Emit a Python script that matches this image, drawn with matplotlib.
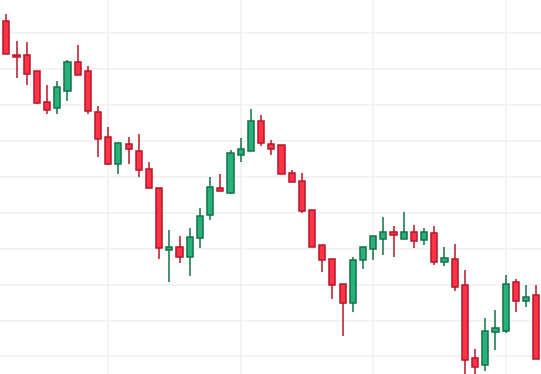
import matplotlib
matplotlib.use("Agg")
import matplotlib.pyplot as plt
import numpy as np

# daily OHLC
opens = [151.67, 146.94, 146.94, 144.71, 140.39, 139.55, 141.92, 145.96, 144.71, 139.00,
         135.52, 131.76, 134.54, 133.57, 131.06, 128.41, 119.78, 120.20, 118.80, 121.45,
         124.65, 128.41, 127.72, 133.01, 133.57, 137.74, 134.54, 134.40, 130.50, 129.39,
         125.35, 120.47, 118.52, 115.04, 112.40, 118.39, 119.92, 121.31, 122.28, 121.31,
         122.28, 121.17, 122.15, 118.11, 118.52, 114.90, 104.74, 103.76, 108.36, 108.50,
         115.32, 112.67, 113.51]
highs = [152.69, 148.93, 148.79, 144.71, 142.80, 143.36, 146.24, 148.37, 145.45, 139.87,
         136.91, 134.68, 135.52, 135.98, 132.03, 128.41, 122.56, 121.73, 122.84, 125.63,
         129.94, 130.36, 133.71, 135.38, 139.41, 138.58, 135.10, 134.40, 130.92, 130.50,
         125.35, 120.47, 118.52, 115.04, 118.80, 120.20, 121.73, 124.42, 123.16, 125.11,
         123.30, 122.88, 123.16, 120.24, 120.66, 116.99, 106.03, 110.31, 111.42, 116.30,
         115.74, 114.90, 114.90]
lows = [147.08, 143.82, 142.84, 140.11, 138.80, 138.80, 140.61, 144.15, 138.80, 132.81,
        131.62, 130.45, 131.84, 130.03, 128.41, 118.52, 115.40, 118.05, 116.24, 120.14,
        124.00, 128.00, 127.58, 132.03, 133.57, 134.26, 133.01, 130.36, 129.25, 124.93,
        120.20, 116.71, 112.95, 107.80, 111.14, 117.21, 118.47, 119.16, 118.89, 121.31,
        120.14, 120.47, 117.69, 117.55, 114.15, 101.99, 102.27, 102.92, 105.85, 108.22,
        111.14, 111.84, 104.60]
closes = [147.08, 146.66, 144.29, 140.25, 139.28, 142.48, 145.96, 144.15, 139.14, 135.24,
          131.76, 134.68, 133.84, 130.92, 128.41, 120.14, 120.20, 118.80, 121.59, 124.51,
          128.55, 128.00, 133.29, 133.84, 137.74, 134.68, 133.84, 130.36, 129.25, 125.21,
          120.20, 118.43, 114.90, 112.40, 118.39, 120.20, 121.73, 122.28, 121.87, 122.28,
          121.03, 122.28, 118.11, 118.66, 114.71, 104.46, 103.48, 108.50, 108.91, 115.04,
          112.67, 113.23, 104.60]

grid_x = [10, 23, 36, 49]
grid_y = [105, 110, 115, 120, 125, 130, 135, 140, 145, 150]

up_fill, up_edge = "#26b27a", "#137348"
dn_fill, dn_edge = "#ff3246", "#b8172a"

o = np.array(opens)
h = np.array(highs)
l = np.array(lows)
c = np.array(closes)
x = np.arange(len(o))
up = c >= o

fig = plt.figure(figsize=(5.41, 3.74), dpi=100)
ax = fig.add_axes([0, 0, 1, 1])

wick_col = [up_edge if u else dn_edge for u in up]
ax.vlines(x, l, h, colors=wick_col, linewidth=1.1, zorder=2)

bottoms = np.minimum(o, c)
heights = np.abs(c - o)
ax.bar(x, heights, bottom=bottoms, width=0.6,
       color=[up_fill if u else dn_fill for u in up],
       edgecolor=wick_col, linewidth=1.1, zorder=3)

ax.set_xlim(-0.62, 52.47)
ax.set_ylim(102.55, 154.64)
ax.set_xticks(grid_x)
ax.set_yticks(grid_y)
ax.grid(True, color="#f0f0f0", linewidth=1.1, zorder=0)
ax.set_axisbelow(True)
ax.tick_params(length=0, labelbottom=False, labelleft=False)
for s in ax.spines.values():
    s.set_visible(False)

fig.savefig("out.png", dpi=100)
